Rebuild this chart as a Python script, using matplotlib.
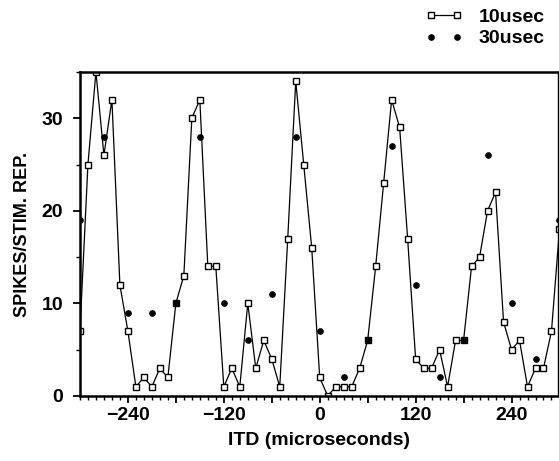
import matplotlib
matplotlib.use('Agg')
import matplotlib.pyplot as plt
from matplotlib.ticker import MultipleLocator, FixedLocator
import numpy as np

plt.rcParams['font.family'] = ['Liberation Sans', 'DejaVu Sans']
plt.rcParams['font.weight'] = 'bold'

# 10 usec steps
itd_10 = np.arange(-300, 310, 10)
spikes_10 = [7, 25, 35, 26, 32, 12, 7, 1, 2, 1, 3, 2, 10, 13, 30, 32, 14, 14, 1, 3,
             1, 10, 3, 6, 4, 1, 17, 34, 25, 16, 2, 0, 1, 1, 1, 3, 6, 14, 23, 32,
             29, 17, 4, 3, 3, 5, 1, 6, 6, 14, 15, 20, 22, 8, 5, 6, 1, 3, 3, 7, 18]

# 30 usec steps
itd_30 = np.arange(-300, 330, 30)
spikes_30 = [19, 28, 9, 9, 10, 28, 10, 6, 11, 28, 7, 2, 6, 27, 12, 2, 6, 26, 10, 4, 19]

x_major = [-240, -180, -120, -60, 0, 60, 120, 180, 240]
x_labels = ['\u2212240', '', '\u2212120', '', '0', '', '120', '', '240']

fig = plt.figure(figsize=(5.59, 4.61), dpi=100)
ax = fig.add_axes([0.143, 0.141, 0.855, 0.703])

ax.plot(itd_10, spikes_10, color='black', linewidth=0.9, marker='s', markersize=4.2,
        markerfacecolor='white', markeredgecolor='black', markeredgewidth=1.0,
        label='10usec')
ax.plot(itd_30, spikes_30, linestyle='none', marker='o', markersize=3.8,
        color='black', label='30usec')

ax.set_xlim(-300, 298)
ax.set_ylim(0, 35)

ax.xaxis.set_major_locator(FixedLocator(x_major))
ax.set_xticklabels(x_labels)
ax.xaxis.set_minor_locator(MultipleLocator(10))
ax.yaxis.set_major_locator(MultipleLocator(10))
ax.yaxis.set_minor_locator(MultipleLocator(5))

ax.tick_params(axis='both', which='major', direction='out', length=5, width=1.3,
               labelsize=14)
ax.tick_params(axis='x', which='major', pad=3)
ax.tick_params(axis='y', which='major', pad=7)
ax.tick_params(axis='both', which='minor', direction='out', length=3, width=1.0)

for side in ['left', 'bottom', 'top']:
    ax.spines[side].set_linewidth(1.8)
ax.spines['right'].set_linewidth(1.0)

ax.set_xlabel('ITD (microseconds)', fontsize=14, fontweight='bold', labelpad=6)
ax.set_ylabel('SPIKES/STIM. REP.', fontsize=13, fontweight='bold', labelpad=8)

ax.legend(loc='upper right', bbox_to_anchor=(0.995, 1.008), bbox_transform=fig.transFigure,
          frameon=False, numpoints=2, handlelength=1.95, handletextpad=0.8,
          labelspacing=0.22, borderaxespad=0.2, prop={'size': 14, 'weight': 'bold'})

fig.savefig('out.png', dpi=100)
